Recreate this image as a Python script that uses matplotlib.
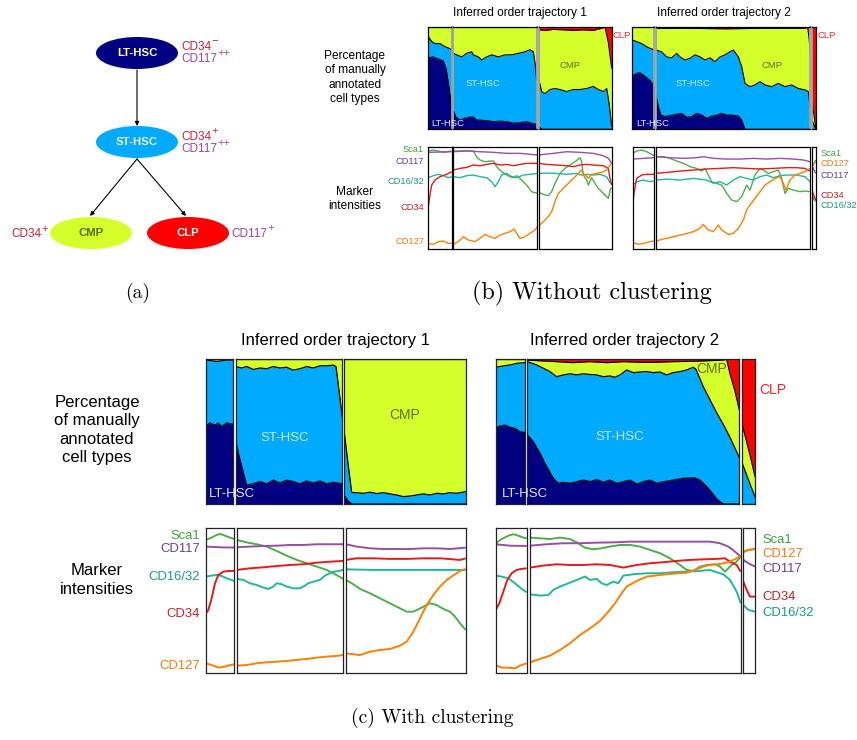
import matplotlib
matplotlib.use("Agg")
import matplotlib.pyplot as plt
from matplotlib.patches import Ellipse

W, H = 857, 740
SCALE = 3  # order units per pixel
plt.rcParams.update({"font.family": ["Liberation Sans", "DejaVu Sans"]})

CELL_C = {"LT": "#000080", "ST": "#00aaff", "CMP": "#d4ff2a", "CLP": "#ff0000"}
MARKERS = ["Sca1", "CD117", "CD16/32", "CD34", "CD127"]
LINE_C = {"Sca1": "#4daf4a", "CD117": "#984ea3", "CD16/32": "#1fb89b", "CD34": "#e41a1c", "CD127": "#ff7f00"}
TEXT_C = {"Sca1": "#3f9f3c", "CD117": "#6a3d9a", "CD16/32": "#1a9c80", "CD34": "#cc1f1f", "CD127": "#f57a10"}

# ---- cell-type stacks: cumulative tops (LT, LT+ST, LT+ST+CMP) per segment
B1_SEGS = [(25, 95), (100, 350), (357, 575)]
B1_LT = [[(25, .70), (40, .71), (55, .69), (70, .67), (78, .60), (85, .45), (90, .33), (95, .22)],
         [(100, .18), (108, .12), (120, .09), (135, .11), (150, .12), (160, .12), (170, .09), (180, .09), (200, .085),
          (220, .075), (240, .08), (260, .075), (280, .06), (300, .065), (320, .075), (335, .06), (350, .05)],
         [(357, .03), (365, 0), (575, 0)]]
B1_ST = [[(25, .91), (35, .86), (45, .84), (60, .84), (75, .81), (90, .79), (95, .78)],
         [(100, .745), (110, .73), (125, .71), (140, .745), (155, .76), (160, .73), (175, .71), (185, .68), (200, .71),
          (215, .73), (235, .71), (255, .73), (275, .73), (295, .745), (315, .76), (330, .78), (340, .76), (345, .65), (350, .48)],
         [(357, .48), (365, .37), (375, .35), (390, .39), (405, .40), (420, .39), (440, .37), (460, .39), (480, .39),
          (500, .40), (520, .42), (535, .39), (550, .37), (560, .40), (567, .26), (575, .03)]]
B1_CMP = [[(25, 1), (95, 1)], [(100, 1), (350, 1)],
          [(357, .975), (380, .97), (400, .98), (430, .975), (460, .97), (490, .975), (520, .97), (545, .99), (555, 1),
           (565, .85), (575, .6)]]

B2_SEGS = [(22, 88), (92, 556), (560, 572)]
B2_LT = [[(22, .52), (35, .55), (45, .555), (60, .52), (75, .48), (85, .435), (88, .39)],
         [(92, .35), (100, .22), (108, .14), (120, .124), (140, .14), (160, .15), (170, .157), (185, .118), (200, .124),
          (215, .157), (230, .14), (245, .108), (260, .13), (275, .14), (290, .157), (305, .14), (320, .14), (340, .13),
          (350, .092), (360, 0), (556, 0)],
         [(560, 0), (572, 0)]]
B2_ST = [[(22, .876), (35, .86), (50, .84), (65, .81), (75, .794), (88, .778)],
         [(92, .778), (110, .76), (125, .71), (140, .70), (155, .745), (165, .71), (180, .68), (195, .696), (210, .73),
          (225, .71), (240, .68), (255, .70), (270, .663), (285, .71), (300, .73), (315, .76), (325, .778), (340, .71),
          (350, .614), (360, .45), (375, .418), (390, .435), (405, .467), (420, .435), (440, .418), (460, .45), (480, .418),
          (500, .435), (520, .40), (540, .386), (550, .37), (556, .2)],
         [(560, .1), (572, 0)]]
B2_CMP = [[(22, 1), (88, 1)],
          [(92, .99), (200, .99), (300, .985), (400, .99), (500, .99), (540, .99), (548, 1), (552, .9), (556, .75)],
          [(560, .3), (572, .02)]]

C1_SEGS = [(18, 100), (107, 427), (432, 797)]
C1_LT = [[(18, .54), (30, .56), (45, .545), (55, .56), (65, .535), (80, .56), (100, .55)],
         [(107, .44), (115, .35), (125, .26), (140, .13), (160, .14), (180, .155), (200, .14), (220, .165), (240, .145),
          (260, .165), (280, .155), (300, .14), (320, .16), (340, .145), (360, .16), (380, .14), (400, .15), (427, .14)],
         [(432, .06), (445, .02), (455, 0), (797, 0)]]
C1_ST = [[(18, .995), (35, .99), (50, .985), (65, .99), (80, .995), (100, .995)],
         [(107, .95), (125, .94), (140, .95), (160, .93), (180, .94), (200, .935), (220, .95), (240, .94), (260, .945),
          (280, .925), (300, .935), (320, .95), (340, .94), (360, .955), (380, .955), (400, .96), (408, .95), (427, .6)],
         [(432, .51), (443, .3), (455, .08), (470, .078), (490, .074), (510, .081), (530, .072), (550, .078), (570, .07),
          (590, .062), (610, .051), (630, .055), (650, .062), (670, .07), (690, .062), (710, .074), (730, .07), (750, .078),
          (770, .074), (797, .085)]]
C1_CMP = [[(18, 1), (100, 1)], [(107, 1), (427, 1)], [(432, 1), (797, 1)]]

C2_SEGS = [(17, 105), (112, 748), (757, 795)]
C2_LT = [[(17, .523), (30, .539), (45, .546), (60, .53), (75, .523), (90, .5), (105, .493)],
         [(112, .477), (130, .431), (150, .35), (170, .258), (190, .177), (205, .143), (220, .15), (240, .143), (260, .154),
          (280, .166), (300, .154), (320, .17), (340, .15), (360, .166), (380, .143), (400, .154), (420, .166), (440, .138),
          (460, .154), (480, .166), (500, .143), (520, .154), (540, .161), (560, .17), (580, .177), (600, .18), (615, .18),
          (630, .165), (650, .12), (665, .08), (680, .035), (700, 0), (748, 0)],
         [(757, 0), (795, 0)]]
C2_ST = [[(17, .945), (40, .954), (60, .961), (80, .972), (105, .977)],
         [(112, .984), (140, .961), (160, .938), (180, .915), (200, .88), (220, .892), (240, .9), (260, .892), (280, .9),
          (300, .895), (320, .892), (340, .88), (360, .885), (375, .876), (390, .892), (410, .926), (430, .908), (450, .912),
          (470, .915), (490, .908), (510, .912), (530, .892), (550, .908), (570, .915), (590, .926), (610, .945), (618, .93),
          (640, .81), (660, .72), (680, .63), (700, .55), (720, .46), (748, .32)],
         [(757, .28), (770, .2), (783, .12), (795, .05)]]
C2_CMP = [[(17, 1), (105, 1)],
          [(112, .995), (150, .99), (200, .984), (250, .977), (300, .984), (350, .977), (400, .984), (450, .98), (500, .98),
           (550, .984), (600, .986), (650, .99), (700, .995), (710, 1), (720, .9), (735, .78), (748, .65)],
          [(757, .545), (770, .43), (783, .31), (795, .19)]]

# ---- marker intensities per segment
BM1_SEGS = [(145, 215), (220, 472), (477, 695)]
B1_SCA1 = [[(145, .958), (160, .967), (175, .958), (190, .945), (200, .951), (215, .958)],
           [(220, .958), (240, .958), (260, .961), (280, .958), (290, .90), (300, .87), (315, .853), (330, .86), (340, .86),
            (350, .805), (365, .756), (380, .723), (390, .707), (400, .697), (410, .717), (425, .674), (440, .625), (455, .56), (472, .544)],
           [(477, .554), (490, .534), (505, .521), (515, .56), (525, .642), (540, .739), (555, .788), (570, .821), (585, .853),
            (600, .893), (605, .853), (610, .723), (620, .674), (625, .625), (635, .697), (645, .642), (655, .593), (670, .544),
            (685, .495), (692, .593), (695, .593)]]
B1_CD117 = [[(145, .945), (180, .948), (215, .951)],
            [(220, .951), (260, .958), (300, .951), (340, .945), (380, .935), (420, .935), (472, .919)],
            [(477, .919), (520, .935), (560, .951), (600, .945), (640, .935), (670, .912), (685, .886), (695, .837)]]
B1_CD1632 = [[(145, .697), (160, .717), (175, .73), (190, .717), (205, .697), (215, .707)],
             [(220, .707), (240, .697), (260, .717), (280, .723), (300, .707), (320, .697), (335, .658), (345, .609), (355, .658),
              (365, .723), (380, .739), (395, .707), (410, .697), (430, .723), (450, .73), (472, .739)],
             [(477, .739), (500, .742), (530, .739), (560, .73), (590, .739), (600, .723), (620, .73), (640, .723), (660, .73),
              (680, .707), (688, .658), (695, .642)]]
B1_CD34 = [[(145, .414), (150, .528), (155, .625), (165, .674), (180, .707), (200, .73), (215, .756)],
           [(220, .772), (240, .788), (260, .798), (280, .821), (300, .814), (320, .827), (340, .837), (360, .821), (380, .827),
            (400, .814), (420, .827), (440, .837), (472, .837)],
           [(477, .837), (500, .827), (530, .821), (560, .814), (580, .805), (600, .821), (620, .827), (640, .821), (670, .814),
            (685, .788), (690, .69), (695, .625)]]
B1_CD127 = [[(145, .055), (160, .046), (175, .072), (190, .078), (205, .055), (215, .055)],
            [(220, .046), (235, .072), (250, .12), (265, .088), (285, .072), (300, .104), (315, .143), (330, .12), (345, .104),
             (360, .137), (375, .153), (390, .169), (402, .195), (410, .153), (420, .104), (435, .12), (450, .153), (465, .186), (472, .218)],
            [(477, .228), (490, .267), (505, .316), (515, .365), (525, .463), (535, .544), (550, .593), (565, .642), (580, .69),
             (595, .739), (605, .772), (610, .723), (615, .73), (625, .69), (635, .73), (650, .739), (665, .749), (680, .772),
             (690, .821), (695, .837)]]

BM2_SEGS = [(758, 822), (828, 1290), (1297, 1307)]
B2_SCA1 = [[(758, .935), (770, .958), (785, .967), (800, .951), (822, .912)],
           [(828, .902), (850, .902), (870, .886), (890, .86), (910, .837), (930, .805), (950, .788), (965, .762), (975, .788),
            (985, .723), (995, .658), (1010, .642), (1025, .625), (1040, .544), (1055, .479), (1070, .463), (1085, .511),
            (1100, .625), (1110, .576), (1125, .723), (1140, .788), (1150, .772), (1165, .739), (1180, .756), (1195, .772),
            (1205, .69), (1215, .544), (1225, .593), (1240, .576), (1260, .56), (1275, .567), (1290, .56)],
           [(1297, .805), (1307, .87)]]
B2_CD117 = [[(758, .879), (790, .886), (822, .893)],
            [(828, .902), (870, .893), (910, .886), (950, .893), (970, .902), (1000, .886), (1040, .879), (1080, .879),
             (1120, .886), (1160, .879), (1200, .886), (1240, .879), (1270, .87), (1290, .853)],
            [(1297, .805), (1307, .739)]]
B2_CD1632 = [[(758, .625), (770, .658), (790, .674), (810, .658), (822, .664)],
             [(828, .674), (860, .684), (900, .674), (940, .69), (980, .674), (1000, .642), (1020, .658), (1040, .625),
              (1060, .674), (1080, .707), (1100, .69), (1120, .674), (1140, .707), (1160, .723), (1180, .697), (1200, .717),
              (1220, .723), (1250, .723), (1275, .707), (1290, .658)],
             [(1297, .511), (1307, .463)]]
B2_CD34 = [[(758, .43), (762, .544), (770, .69), (785, .723), (800, .73), (822, .73)],
           [(828, .739), (860, .749), (900, .762), (940, .772), (980, .782), (1020, .788), (1060, .795), (1100, .788),
            (1140, .782), (1180, .788), (1220, .795), (1250, .795), (1275, .788), (1290, .762)],
           [(1297, .56), (1307, .479)]]
B2_CD127 = [[(758, .065), (775, .046), (790, .055), (810, .072), (822, .078)],
            [(828, .078), (850, .098), (880, .12), (910, .143), (940, .169), (960, .202), (970, .241), (985, .186),
             (1000, .169), (1015, .235), (1025, .186), (1045, .143), (1060, .153), (1075, .202), (1090, .283), (1100, .381),
             (1110, .43), (1125, .495), (1140, .56), (1155, .625), (1170, .658), (1185, .69), (1200, .707), (1210, .642),
             (1218, .577), (1230, .674), (1245, .723), (1260, .739), (1275, .756), (1290, .788)],
            [(1297, .821), (1307, .853)]]

CM1_SEGS = [(198, 283), (290, 610), (618, 977)]
C1_SCA1 = [[(198, .92), (215, .936), (230, .954), (240, .961), (255, .949), (270, .936), (283, .926)],
           [(290, .92), (320, .903), (350, .89), (380, .874), (410, .844), (440, .811), (470, .782), (500, .759), (530, .736),
            (560, .713), (585, .683), (610, .651)],
           [(618, .644), (640, .614), (660, .582), (690, .552), (720, .517), (750, .483), (780, .448), (800, .425), (820, .425),
            (845, .453), (870, .483), (890, .471), (910, .444), (930, .425), (945, .391), (960, .345), (977, .299)]]
C1_CD117 = [[(198, .874), (240, .869), (283, .867)],
            [(290, .869), (330, .874), (370, .878), (410, .88), (450, .885), (490, .885), (530, .89), (570, .89), (610, .89)],
            [(618, .89), (650, .874), (690, .862), (730, .857), (770, .857), (810, .857), (850, .862), (890, .862), (930, .857), (977, .867)]]
C1_CD1632 = [[(198, .667), (215, .674), (230, .678), (245, .671), (260, .655), (283, .637)],
             [(290, .651), (310, .644), (330, .621), (350, .609), (370, .591), (385, .582), (400, .598), (410, .621), (425, .614),
              (440, .598), (460, .586), (480, .586), (495, .605), (505, .621), (520, .632), (540, .644), (555, .674), (575, .697),
              (595, .706), (610, .713)],
             [(618, .717), (700, .713), (800, .713), (900, .713), (977, .713)]]
C1_CD34 = [[(198, .414), (205, .437), (215, .517), (225, .621), (235, .678), (250, .701), (265, .706), (283, .706)],
           [(290, .713), (330, .724), (370, .731), (410, .74), (450, .747), (490, .752), (530, .763), (570, .77), (610, .775)],
           [(618, .782), (650, .793), (700, .793), (750, .789), (800, .789), (850, .793), (900, .793), (940, .786), (960, .782), (977, .793)]]
C1_CD127 = [[(198, .069), (215, .057), (235, .039), (255, .046), (270, .057), (283, .062)],
            [(290, .053), (320, .057), (350, .069), (380, .076), (410, .08), (440, .085), (470, .092), (500, .099), (530, .108),
             (560, .115), (590, .12), (610, .126)],
            [(618, .138), (640, .131), (660, .126), (690, .149), (720, .161), (750, .168), (780, .191), (800, .218), (820, .287),
             (840, .379), (860, .471), (880, .54), (900, .598), (920, .644), (945, .683), (960, .706), (977, .72)]]

CM2_SEGS = [(17, 110), (120, 752), (760, 795)]
C2_SCA1 = [[(17, .897), (35, .926), (55, .949), (70, .959), (85, .949), (100, .936), (110, .931)],
           [(120, .936), (150, .931), (180, .926), (210, .936), (240, .926), (260, .903), (285, .866), (310, .855), (335, .862),
            (360, .874), (390, .885), (420, .885), (450, .874), (480, .851), (510, .828), (540, .793), (570, .747), (590, .713),
            (610, .706), (630, .736), (650, .747), (675, .752), (690, .736), (705, .701), (725, .747), (740, .77), (752, .805)],
           [(760, .839), (775, .851), (795, .857)]]
C2_CD117 = [[(17, .89), (60, .88), (110, .878)],
            [(120, .88), (170, .89), (220, .897), (270, .897), (320, .901), (370, .903), (420, .908), (470, .908), (520, .908),
             (570, .908), (620, .908), (660, .908), (690, .897), (715, .874), (735, .839), (752, .805)],
            [(760, .782), (775, .759), (795, .736)]]
C2_CD1632 = [[(17, .674), (35, .667), (55, .655), (75, .621), (95, .582), (110, .559)],
             [(120, .545), (150, .536), (175, .54), (190, .575), (210, .598), (235, .621), (260, .644), (285, .667), (300, .644),
              (320, .651), (335, .621), (350, .609), (370, .632), (385, .621), (400, .674), (430, .683), (470, .69), (510, .69),
              (550, .697), (590, .701), (630, .706), (660, .713), (680, .697), (700, .683), (720, .644), (740, .563), (752, .483)],
             [(760, .471), (775, .437), (795, .425)]]
C2_CD34 = [[(17, .437), (28, .483), (40, .563), (52, .644), (65, .69), (80, .713), (95, .72), (110, .724)],
           [(120, .729), (160, .743), (200, .752), (240, .747), (280, .747), (320, .752), (360, .747), (400, .729), (440, .747),
            (480, .759), (520, .766), (560, .775), (600, .782), (640, .786), (680, .789), (705, .793), (720, .77), (740, .747), (752, .701)],
           [(760, .632), (770, .575), (780, .529), (795, .529)]]
C2_CD127 = [[(17, .057), (35, .039), (55, .039), (75, .034), (90, .053), (110, .069)],
            [(120, .076), (150, .099), (180, .122), (210, .161), (240, .207), (270, .264), (300, .31), (330, .361), (355, .425),
             (375, .483), (395, .552), (410, .598), (440, .637), (470, .667), (510, .678), (550, .687), (590, .694), (615, .713),
             (640, .736), (660, .747), (690, .754), (720, .77), (740, .793), (752, .811)],
            [(760, .834), (775, .851), (795, .857)]]

fig = plt.figure(figsize=(W / 100, H / 100), dpi=100)


def seg_axes(origin, segs, y0, y1, edge="black", inner=None):
    axs = []
    for i, (a, b) in enumerate(segs):
        x0, x1 = origin + a / SCALE, origin + b / SCALE
        ax = fig.add_axes([x0 / W, 1 - y1 / H, (x1 - x0) / W, (y1 - y0) / H])
        ax.set_xlim(a, b); ax.set_ylim(0, 1)
        ax.set_xticks([]); ax.set_yticks([])
        for s in ax.spines.values():
            s.set_linewidth(0.9); s.set_color(edge)
        if inner:
            if i > 0: ax.spines["left"].set(color=inner, linewidth=1.3)
            if i < len(segs) - 1: ax.spines["right"].set(color=inner, linewidth=1.3)
        axs.append(ax)
    return axs


def draw_stack(axs, lt, st, cmp_, lw):
    for i, ax in enumerate(axs):
        ax.set_facecolor(CELL_C["CLP"])
        for pts, key in ((cmp_[i], "CMP"), (st[i], "ST"), (lt[i], "LT")):
            x, y = zip(*pts)
            ax.fill_between(x, 0, y, color=CELL_C[key], lw=0)
            ax.plot(x, y, color="black", lw=lw)


def draw_marks(axs, series, lw):
    for i, ax in enumerate(axs):
        for m in MARKERS:
            x, y = zip(*series[m][i])
            ax.plot(x, y, color=LINE_C[m], lw=lw, solid_capstyle="butt")


# (b) without clustering
draw_stack(seg_axes(420, B1_SEGS, 27.3, 129.3, inner="#a0a0a0"), B1_LT, B1_ST, B1_CMP, 0.8)
draw_stack(seg_axes(625, B2_SEGS, 27.3, 129.3, inner="#a0a0a0"), B2_LT, B2_ST, B2_CMP, 0.8)
draw_marks(seg_axes(380, BM1_SEGS, 146.7, 249),
           dict(zip(MARKERS, [B1_SCA1, B1_CD117, B1_CD1632, B1_CD34, B1_CD127])), 1.0)
draw_marks(seg_axes(380, BM2_SEGS, 146.7, 249),
           dict(zip(MARKERS, [B2_SCA1, B2_CD117, B2_CD1632, B2_CD34, B2_CD127])), 1.0)

# (c) with clustering
draw_stack(seg_axes(200, C1_SEGS, 359.3, 504, edge="#222222"), C1_LT, C1_ST, C1_CMP, 0.9)
draw_stack(seg_axes(490, C2_SEGS, 359.3, 504, edge="#222222"), C2_LT, C2_ST, C2_CMP, 0.9)
draw_marks(seg_axes(140, CM1_SEGS, 528.3, 673.3, edge="#222222"),
           dict(zip(MARKERS, [C1_SCA1, C1_CD117, C1_CD1632, C1_CD34, C1_CD127])), 1.4)
draw_marks(seg_axes(490, CM2_SEGS, 528.3, 673.3, edge="#222222"),
           dict(zip(MARKERS, [C2_SCA1, C2_CD117, C2_CD1632, C2_CD34, C2_CD127])), 1.4)

# overlay in pixel coordinates for the diagram and labels
ov = fig.add_axes([0, 0, 1, 1])
ov.set_xlim(0, W); ov.set_ylim(H, 0); ov.axis("off")

# (a) lineage diagram
NODES = {"LT-HSC": (137, 53, CELL_C["LT"], "white"), "ST-HSC": (137, 142, CELL_C["ST"], "#f0f8ff"),
         "CMP": (91, 233, CELL_C["CMP"], "#5a6a00"), "CLP": (188, 233, CELL_C["CLP"], "white")}
for name, (x, y, fc, tc) in NODES.items():
    ov.add_patch(Ellipse((x, y), 82, 32, facecolor=fc, edgecolor="none"))
    ov.text(x, y, name, color=tc, fontsize=8.2, fontweight="bold", ha="center", va="center")
arrow = dict(arrowstyle="-|>", lw=0.8, color="black", mutation_scale=6, shrinkA=0, shrinkB=0)
ov.annotate("", xy=(137, 126), xytext=(137, 70), arrowprops=arrow)
ov.annotate("", xy=(90, 216), xytext=(137, 159), arrowprops=arrow)
ov.annotate("", xy=(186, 216), xytext=(137, 159), arrowprops=arrow)
RED_T, PUR_T = "#cc2233", "#9944aa"


def surface_label(x, y, name, sup, color, ha="left"):
    if ha == "right":
        s = ov.text(x, y - 5, sup, color=color, fontsize=8, ha="right", va="center")
        ov.annotate(name, xy=(0, 0), xycoords=s, xytext=(0, -4), textcoords="offset points",
                    color=color, fontsize=8.5, ha="right", va="bottom")
    else:
        t = ov.text(x, y, name, color=color, fontsize=8.5, ha="left", va="center")
        ov.annotate(sup, xy=(1.01, 0.62), xycoords=t, color=color, fontsize=8, ha="left", va="bottom")


surface_label(181, 47, "CD34", "\u2212", RED_T)
surface_label(181, 59, "CD117", "++", PUR_T)
surface_label(181, 137, "CD34", "+", RED_T)
surface_label(181, 149, "CD117", "++", PUR_T)
surface_label(48, 234, "CD34", "+", RED_T, ha="right")
surface_label(231, 234, "CD117", "+", PUR_T)

# titles and side labels
for x, y, t, fs in ((520, 13, "Inferred order trajectory 1", 8.6), (724, 13, "Inferred order trajectory 2", 8.6),
                    (336, 340, "Inferred order trajectory 1", 12), (625, 340, "Inferred order trajectory 2", 12)):
    ov.text(x, y, t, fontsize=fs, ha="center", va="center")
ov.text(355, 77.5, "Percentage\nof manually\nannotated\ncell types", fontsize=8.6, ha="center", va="center", linespacing=1.25)
ov.text(355, 199, "Marker\nintensities", fontsize=8.6, ha="center", va="center", linespacing=1.25)
ov.text(97, 430, "Percentage\nof manually\nannotated\ncell types", fontsize=12, ha="center", va="center", linespacing=1.3)
ov.text(97, 580, "Marker\nintensities", fontsize=12, ha="center", va="center", linespacing=1.3)

# labels inside the stacks
ST_T, CMP_T, LT_T, CLP_T = "#c8e8ff", "#5f7000", "#e6e6ff", "#ff2020"
for x, y, t, c, fs in ((483, 83, "ST-HSC", ST_T, 6.8), (570, 66, "CMP", CMP_T, 6.8), (448, 123, "LT-HSC", LT_T, 6.8),
                       (693, 83, "ST-HSC", ST_T, 6.8), (772, 65, "CMP", CMP_T, 6.8), (653, 123, "LT-HSC", LT_T, 6.8),
                       (285, 438, "ST-HSC", ST_T, 9.5), (405, 415, "CMP", CMP_T, 10), (232, 494, "LT-HSC", LT_T, 9.5),
                       (620, 437, "ST-HSC", ST_T, 9.5), (712, 369, "CMP", CMP_T, 10), (525, 494, "LT-HSC", LT_T, 9.5)):
    ov.text(x, y, t, color=c, fontsize=fs, ha="center", va="center")
ov.text(613, 36, "CLP", color=CLP_T, fontsize=6.8, va="center")
ov.text(818, 36, "CLP", color=CLP_T, fontsize=6.8, va="center")
ov.text(759, 390, "CLP", color=CLP_T, fontsize=10, va="center")

# marker names
B_LEFT_Y = dict(zip(MARKERS, [150, 161, 182, 207, 242]))
B_RIGHT_Y = {"Sca1": 154, "CD127": 164, "CD117": 176, "CD34": 195, "CD16/32": 206}
C_LEFT_Y = dict(zip(MARKERS, [536, 549, 577, 614, 666]))
C_RIGHT_Y = {"Sca1": 540, "CD127": 554, "CD117": 569, "CD34": 597, "CD16/32": 613}
for m in MARKERS:
    ov.text(424, B_LEFT_Y[m], m, color=TEXT_C[m], fontsize=6.7, ha="right", va="center")
    ov.text(821, B_RIGHT_Y[m], m, color=TEXT_C[m], fontsize=6.7, ha="left", va="center")
    ov.text(200, C_LEFT_Y[m], m, color=TEXT_C[m], fontsize=9.4, ha="right", va="center")
    ov.text(762, C_RIGHT_Y[m], m, color=TEXT_C[m], fontsize=9.4, ha="left", va="center")

# captions
for x, y, t, fs in ((138, 293, "(a)", 14), (592, 293, "(b) Without clustering", 17.4), (432, 718, "(c) With clustering", 14)):
    ov.text(x, y, t, fontsize=fs, ha="center", va="center", fontfamily="cmr10")

fig.savefig("out.png", dpi=100)
